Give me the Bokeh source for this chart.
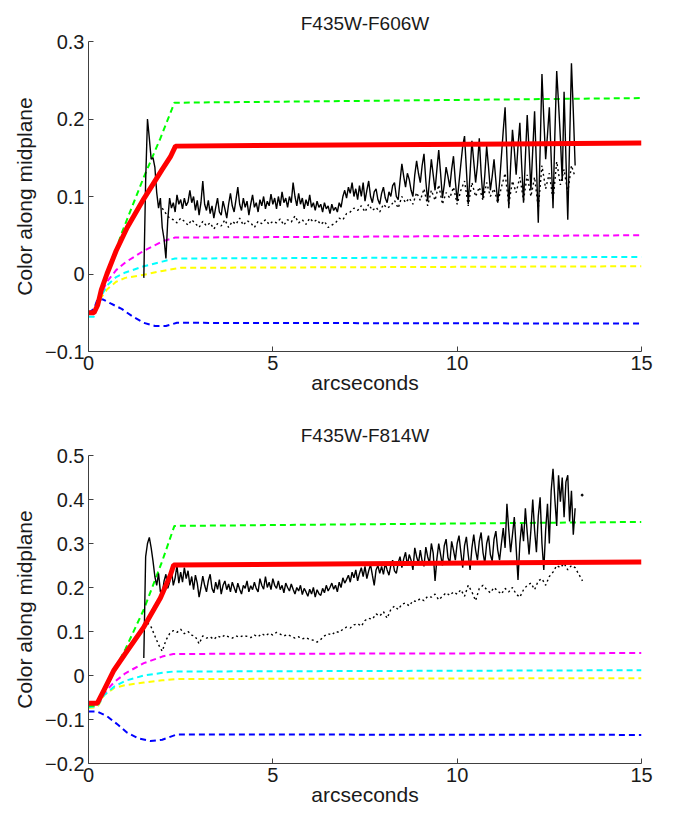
import numpy as np
from bokeh.plotting import figure
from bokeh.layouts import column
from bokeh.models import Range1d, FixedTicker
from bokeh.embed import file_html
from bokeh.resources import INLINE

# ---------------- data: panel 1 (F435W-F606W) ----------------
t1_red_x = [0, 0.15, 0.25, 0.35, 0.5, 0.75, 1.05, 1.5, 2.0, 2.22, 2.36, 15]
t1_red_y = [-0.05, -0.05, -0.04, -0.02, 0.0, 0.03, 0.06, 0.097, 0.135, 0.151, 0.165, 0.169]
t1_grn_x = [0, 0.15, 0.25, 0.35, 0.5, 0.7, 0.91, 1.5, 1.95, 2.33, 15]
t1_grn_y = [-0.05, -0.05, -0.04, -0.02, 0.0, 0.025, 0.054, 0.125, 0.175, 0.221, 0.227]
t1_mag_x = [0, 0.15, 0.25, 0.35, 0.5, 0.75, 1.0, 1.5, 2.0, 2.35, 15]
t1_mag_y = [-0.05, -0.05, -0.04, -0.025, -0.01, 0.005, 0.015, 0.030, 0.042, 0.047, 0.050]
t1_cyn_x = [0, 0.15, 0.25, 0.35, 0.5, 0.75, 1.0, 1.5, 2.0, 2.35, 15]
t1_cyn_y = [-0.055, -0.055, -0.04, -0.028, -0.015, -0.004, 0.002, 0.010, 0.016, 0.020, 0.022]
t1_yel_x = [0, 0.15, 0.25, 0.35, 0.5, 0.75, 1.0, 1.5, 2.0, 2.5, 15]
t1_yel_y = [-0.05, -0.05, -0.04, -0.03, -0.02, -0.01, -0.005, -0.001, 0.004, 0.008, 0.010]
t1_blu_x = [0, 0.15, 0.25, 0.4, 0.6, 0.9, 1.2, 1.5, 1.8, 2.1, 2.4, 15]
t1_blu_y = [-0.05, -0.045, -0.032, -0.033, -0.038, -0.045, -0.055, -0.063, -0.067, -0.067, -0.063, -0.064]

# observed profile, sampled every 0.05" from 1.50"
t1_obs_x0, t1_obs_dx = 1.5, 0.05
t1_obs_y = [
    -0.005, 0.120, 0.200, 0.175, 0.148, 0.150, 0.138, 0.105, 0.085, 0.098,
    0.060, 0.045, 0.020, 0.070, 0.098, 0.085, 0.092, 0.080, 0.102, 0.090,
    0.096, 0.084, 0.098, 0.088, 0.093, 0.108, 0.092, 0.100, 0.082, 0.095,
    0.076, 0.092, 0.120, 0.090, 0.082, 0.095, 0.078, 0.088, 0.072, 0.086,
    0.098, 0.080, 0.076, 0.094, 0.084, 0.072, 0.090, 0.104, 0.088, 0.080,
    0.096, 0.112, 0.090, 0.082, 0.098, 0.086, 0.094, 0.076, 0.090, 0.102,
    0.086, 0.092, 0.080, 0.096, 0.088, 0.100, 0.084, 0.094, 0.088, 0.103,
    0.090, 0.098, 0.084, 0.100, 0.088, 0.106, 0.092, 0.098, 0.086, 0.100,
    0.092, 0.118, 0.100, 0.088, 0.104, 0.090, 0.098, 0.084, 0.096, 0.088,
    0.102, 0.086, 0.092, 0.082, 0.094, 0.086, 0.090, 0.080, 0.092, 0.084,
    0.088, 0.078, 0.090, 0.082, 0.086, 0.080, 0.092, 0.086, 0.100, 0.108,
    0.098, 0.112, 0.104, 0.118, 0.100, 0.110, 0.096, 0.114, 0.100, 0.118,
    0.094, 0.108, 0.120, 0.100, 0.092, 0.106, 0.110, 0.096, 0.090, 0.104,
    0.112, 0.098, 0.092, 0.106, 0.100, 0.114, 0.118, 0.100, 0.096, 0.120,
    0.142, 0.126, 0.112, 0.130, 0.122, 0.108, 0.100, 0.128, 0.146, 0.130,
    0.118, 0.140, 0.155, 0.120, 0.094, 0.122, 0.148, 0.128, 0.108, 0.135,
    0.160, 0.130, 0.098, 0.115, 0.138, 0.126, 0.112, 0.135, 0.152, 0.120,
    0.094, 0.118, 0.142, 0.165, 0.178, 0.135, 0.090, 0.130, 0.172, 0.145,
    0.118, 0.140, 0.175, 0.130, 0.098, 0.128, 0.165, 0.138, 0.108, 0.126,
    0.148, 0.120, 0.092, 0.118, 0.152, 0.185, 0.215, 0.150, 0.085, 0.140,
    0.186, 0.160, 0.128, 0.165, 0.195, 0.140, 0.092, 0.150, 0.205, 0.160,
    0.108, 0.160, 0.210, 0.140, 0.066, 0.160, 0.258, 0.200, 0.148, 0.180,
    0.215, 0.150, 0.085, 0.180, 0.262, 0.220, 0.175, 0.120, 0.235, 0.150,
    0.070, 0.170, 0.272, 0.210, 0.140,
]
t1_dot_x0, t1_dot_dx = 2.0, 0.1
t1_dot_y = [
    0.085, 0.078, 0.072, 0.070, 0.066, 0.072, 0.068, 0.063, 0.070, 0.065,
    0.060, 0.068, 0.062, 0.066, 0.058, 0.065, 0.062, 0.070, 0.060, 0.068,
    0.064, 0.072, 0.063, 0.069, 0.066, 0.060, 0.068, 0.065, 0.070, 0.064,
    0.068, 0.066, 0.071, 0.063, 0.070, 0.067, 0.075, 0.066, 0.070, 0.064,
    0.072, 0.067, 0.070, 0.064, 0.068, 0.060, 0.063, 0.066, 0.072, 0.070,
    0.078, 0.080, 0.085, 0.082, 0.088, 0.080, 0.090, 0.082, 0.086, 0.080,
    0.090, 0.085, 0.088, 0.095, 0.085, 0.100, 0.092, 0.098, 0.090, 0.105,
    0.095, 0.110, 0.088, 0.108, 0.095, 0.115, 0.090, 0.105, 0.098, 0.112,
    0.090, 0.108, 0.120, 0.088, 0.118, 0.100, 0.112, 0.095, 0.118, 0.100,
    0.110, 0.092, 0.112, 0.130, 0.090, 0.120, 0.105, 0.125, 0.095, 0.128,
    0.100, 0.125, 0.085, 0.140, 0.110, 0.130, 0.095, 0.145, 0.115, 0.135,
    0.105, 0.140, 0.125,
]

# ---------------- data: panel 2 (F435W-F814W) ----------------
t2_red_x = [0, 0.24, 0.42, 0.69, 1.0, 1.5, 1.95, 2.22, 2.31, 15]
t2_red_y = [-0.063, -0.063, -0.033, 0.012, 0.05, 0.11, 0.176, 0.228, 0.251, 0.258]
t2_grn_x = [0, 0.24, 0.42, 0.69, 1.0, 1.5, 2.0, 2.33, 15]
t2_grn_y = [-0.07, -0.068, -0.035, 0.01, 0.06, 0.15, 0.26, 0.34, 0.349]
t2_mag_x = [0, 0.24, 0.42, 0.7, 1.0, 1.5, 2.0, 2.3, 15]
t2_mag_y = [-0.07, -0.068, -0.04, -0.015, 0.005, 0.028, 0.043, 0.049, 0.051]
t2_cyn_x = [0, 0.24, 0.42, 0.7, 1.0, 1.5, 2.0, 2.3, 15]
t2_cyn_y = [-0.072, -0.07, -0.045, -0.025, -0.012, 0.0, 0.006, 0.009, 0.012]
t2_yel_x = [0, 0.24, 0.42, 0.7, 1.0, 1.5, 2.0, 2.4, 15]
t2_yel_y = [-0.074, -0.072, -0.045, -0.028, -0.022, -0.016, -0.011, -0.008, -0.006]
t2_blu_x = [0, 0.24, 0.51, 0.8, 1.05, 1.35, 1.68, 2.0, 2.4, 15]
t2_blu_y = [-0.082, -0.082, -0.093, -0.112, -0.130, -0.143, -0.149, -0.146, -0.134, -0.135]

t2_obs_x0, t2_obs_dx = 1.5, 0.05
t2_obs_y = [
    0.040, 0.270, 0.300, 0.314, 0.290, 0.260, 0.225, 0.205, 0.232, 0.190,
    0.185, 0.215, 0.230, 0.198, 0.212, 0.240, 0.205, 0.222, 0.250, 0.210,
    0.235, 0.212, 0.245, 0.220, 0.238, 0.205, 0.225, 0.195, 0.228, 0.210,
    0.178, 0.200, 0.226, 0.205, 0.190, 0.215, 0.230, 0.198, 0.188, 0.212,
    0.196, 0.218, 0.185, 0.205, 0.215, 0.195, 0.208, 0.190, 0.212, 0.200,
    0.188, 0.210, 0.196, 0.185, 0.205, 0.198, 0.215, 0.190, 0.204, 0.195,
    0.212, 0.198, 0.190, 0.220, 0.205, 0.196, 0.225, 0.200, 0.212, 0.195,
    0.220, 0.205, 0.198, 0.215, 0.195, 0.205, 0.188, 0.210, 0.200, 0.192,
    0.208, 0.196, 0.185, 0.200, 0.192, 0.205, 0.184, 0.198, 0.190, 0.180,
    0.196, 0.185, 0.200, 0.178, 0.195, 0.186, 0.182, 0.198, 0.188, 0.205,
    0.192, 0.200, 0.210, 0.196, 0.205, 0.190, 0.212, 0.200, 0.222, 0.210,
    0.218, 0.228, 0.212, 0.235, 0.222, 0.240, 0.215, 0.232, 0.245, 0.225,
    0.248, 0.220, 0.238, 0.252, 0.228, 0.205, 0.240, 0.250, 0.232, 0.248,
    0.230, 0.255, 0.240, 0.228, 0.250, 0.262, 0.238, 0.232, 0.256, 0.270,
    0.245, 0.265, 0.280, 0.250, 0.275, 0.262, 0.240, 0.290, 0.270, 0.255,
    0.285, 0.260, 0.248, 0.292, 0.270, 0.255, 0.300, 0.278, 0.215, 0.265,
    0.300, 0.275, 0.250, 0.295, 0.310, 0.268, 0.255, 0.305, 0.285, 0.262,
    0.300, 0.318, 0.280, 0.245, 0.295, 0.315, 0.275, 0.240, 0.290, 0.320,
    0.285, 0.262, 0.305, 0.325, 0.280, 0.255, 0.300, 0.318, 0.275, 0.260,
    0.310, 0.328, 0.285, 0.262, 0.300, 0.335, 0.290, 0.390, 0.330, 0.280,
    0.320, 0.360, 0.290, 0.217, 0.300, 0.345, 0.305, 0.380, 0.325, 0.275,
    0.330, 0.400, 0.330, 0.280, 0.362, 0.405, 0.300, 0.240, 0.330, 0.390,
    0.300, 0.420, 0.470, 0.400, 0.340, 0.455, 0.395, 0.450, 0.360, 0.440,
    0.455, 0.350, 0.420, 0.320, 0.380,
]
t2_dot_x0, t2_dot_dx = 1.6, 0.1
t2_dot_y = [
    0.120, 0.110, 0.090, 0.070, 0.055, 0.080, 0.095, 0.102, 0.098, 0.105,
    0.095, 0.100, 0.092, 0.088, 0.072, 0.090, 0.085, 0.088, 0.082, 0.090,
    0.086, 0.092, 0.088, 0.085, 0.090, 0.087, 0.091, 0.089, 0.086, 0.092,
    0.088, 0.095, 0.090, 0.096, 0.092, 0.098, 0.094, 0.090, 0.093, 0.089,
    0.085, 0.088, 0.083, 0.086, 0.082, 0.080, 0.076, 0.082, 0.090, 0.095,
    0.092, 0.100, 0.098, 0.105, 0.110, 0.108, 0.115, 0.118, 0.112, 0.125,
    0.130, 0.128, 0.140, 0.135, 0.145, 0.130, 0.150, 0.158, 0.150, 0.162,
    0.165, 0.158, 0.170, 0.168, 0.175, 0.170, 0.180, 0.178, 0.185, 0.172,
    0.180, 0.188, 0.182, 0.190, 0.185, 0.195, 0.180, 0.205, 0.190, 0.170,
    0.198, 0.205, 0.195, 0.188, 0.200, 0.192, 0.185, 0.198, 0.190, 0.200,
    0.185, 0.178, 0.195, 0.205, 0.210, 0.195, 0.215, 0.220, 0.205, 0.225,
    0.235, 0.250, 0.245, 0.255, 0.240, 0.250, 0.245, 0.230, 0.215,
]
t2_stray_x = [13.39]
t2_stray_y = [0.41]

x_ticks = [0, 5, 10, 15]
y1_ticks = [-0.1, 0, 0.1, 0.2, 0.3]
y2_ticks = [-0.2, -0.1, 0, 0.1, 0.2, 0.3, 0.4, 0.5]

FONT = "Liberation Sans"
AXC = "#404040"
TXT = "#1a1a1a"


def grid_x(x0, dx, ys):
    return [round(x0 + i * dx, 3) for i in range(len(ys))]


def make_panel(title, yr, yticks, height, top, bottom, tstand, models, obs, dots, stray=None):
    p = figure(width=665, height=height, output_backend="svg", toolbar_location=None,
               x_range=Range1d(0, 15), y_range=Range1d(*yr),
               min_border_left=88, min_border_right=24,
               min_border_top=top, min_border_bottom=bottom,
               title=title)
    p.title.align = "center"
    p.title.text_font = FONT
    p.title.text_font_size = "19px"
    p.title.text_font_style = "normal"
    p.title.text_color = TXT
    p.title.standoff = tstand
    p.outline_line_color = None
    p.xgrid.visible = False
    p.ygrid.visible = False
    p.xaxis.ticker = FixedTicker(ticks=x_ticks)
    p.yaxis.ticker = FixedTicker(ticks=yticks)
    p.yaxis.major_label_overrides = {0: "0"}
    for ax in (p.xaxis[0], p.yaxis[0]):
        ax.axis_line_color = AXC
        ax.major_tick_line_color = AXC
        ax.major_tick_in = 5
        ax.major_tick_out = 0
        ax.minor_tick_line_color = None
        ax.major_label_text_font = FONT
        ax.major_label_text_font_size = "20px"
        ax.major_label_text_color = TXT
        ax.axis_label_text_font = FONT
        ax.axis_label_text_font_size = "21px"
        ax.axis_label_text_font_style = "normal"
        ax.axis_label_text_color = TXT
    p.xaxis.axis_label = "arcseconds"
    p.yaxis.axis_label = "Color along midplane"
    p.xaxis.major_label_standoff = 4
    p.xaxis.axis_label_standoff = -2
    p.yaxis.major_label_standoff = 4
    p.yaxis.axis_label_standoff = 6

    for (mx, my, col) in models[:-1]:
        p.line(mx, my, line_color=col, line_width=2, line_dash="6 4")
    dx, dy = dots
    p.line(dx, dy, line_color="black", line_width=1.4, line_dash="2 3")
    ox, oy = obs
    p.line(ox, oy, line_color="black", line_width=1.4)
    if stray is not None:
        p.scatter(stray[0], stray[1], size=2, color="black")
    rx, ry, rc = models[-1]
    p.line(rx, ry, line_color=rc, line_width=5)
    return p


p1 = make_panel("F435W-F606W", (-0.1, 0.3), y1_ticks, 400, 41, 49, 16,
                [(t1_blu_x, t1_blu_y, "#0000FF"), (t1_yel_x, t1_yel_y, "#FFFF00"),
                 (t1_cyn_x, t1_cyn_y, "#00FFFF"), (t1_mag_x, t1_mag_y, "#FF00FF"),
                 (t1_grn_x, t1_grn_y, "#00FF00"), (t1_red_x, t1_red_y, "#FF0000")],
                (grid_x(t1_obs_x0, t1_obs_dx, t1_obs_y), t1_obs_y),
                (grid_x(t1_dot_x0, t1_dot_dx, t1_dot_y), t1_dot_y))
p2 = make_panel("F435W-F814W", (-0.2, 0.5), y2_ticks, 408, 55, 42, 20,
                [(t2_blu_x, t2_blu_y, "#0000FF"), (t2_yel_x, t2_yel_y, "#FFFF00"),
                 (t2_cyn_x, t2_cyn_y, "#00FFFF"), (t2_mag_x, t2_mag_y, "#FF00FF"),
                 (t2_grn_x, t2_grn_y, "#00FF00"), (t2_red_x, t2_red_y, "#FF0000")],
                (grid_x(t2_obs_x0, t2_obs_dx, t2_obs_y), t2_obs_y),
                (grid_x(t2_dot_x0, t2_dot_dx, t2_dot_y), t2_dot_y),
                stray=(t2_stray_x, t2_stray_y))

layout = column(p1, p2, spacing=0)
open("out.html", "w").write(file_html(layout, INLINE))
